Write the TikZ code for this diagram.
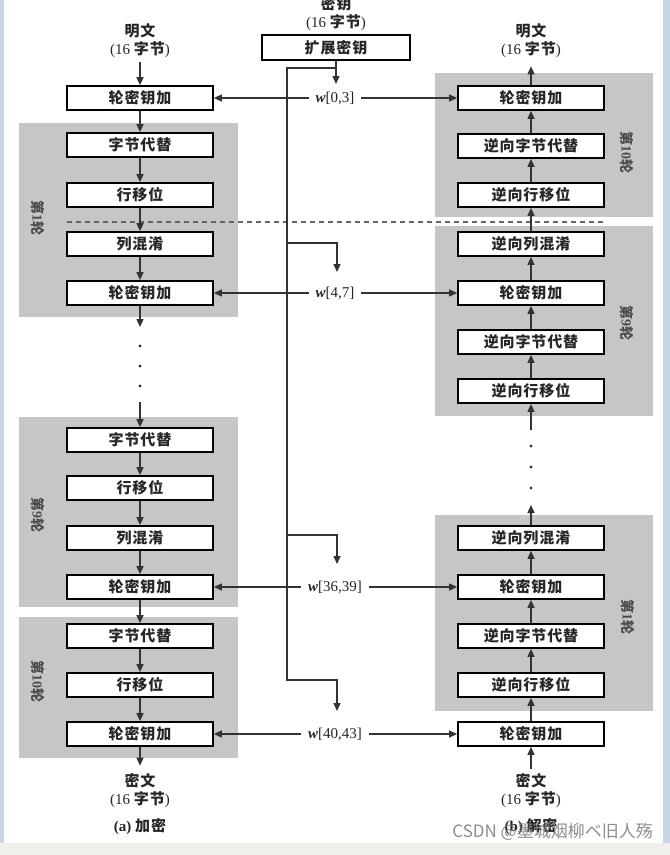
\documentclass[tikz,border=0pt]{standalone}
\usepackage{fontspec}
\setmainfont{Liberation Serif}
\newfontfamily\cjk[LetterSpace=6]{Noto Sans CJK SC}
\newfontfamily\cjkwm{Noto Sans CJK SC}
\usetikzlibrary{arrows.meta}
\definecolor{roundgray}{RGB}{198,198,198}
\definecolor{edgeblue}{RGB}{200,214,234}
\definecolor{stripgray}{RGB}{240,239,235}
\newcommand\zh[1]{{\cjk\bfseries #1}}
\tikzset{
 opbox/.style={draw=black, line width=1.7pt, fill=white, minimum width=146pt, minimum height=24pt, inner sep=0pt, font=\fontsize{15}{16}\selectfont\cjk\bfseries, text=black!85},
 flow/.style={line width=1.4pt, draw=black!80, -{Triangle[length=8pt,width=7pt]}},
 keyline/.style={line width=1.3pt, draw=black!80},
 lab/.style={font=\fontsize{15}{18}\selectfont, align=center, text=black!85, inner sep=1pt},
 wlab/.style={font=\fontsize{15}{17}\selectfont, text=black!85, inner sep=1pt, outer sep=6pt},
 rlab/.style={rotate=-90, font=\fontsize{14}{15}\selectfont\bfseries, text=black!70},
 dotnode/.style={circle, fill=black!80, inner sep=0pt, minimum size=3.4pt}
}
\begin{document}
\begin{tikzpicture}[x=1pt,y=-1pt]
\useasboundingbox (0,0) rectangle (670,855);
\fill[white] (0,0) rectangle (670,855);
% screen edges
\fill[edgeblue] (0,0) rectangle (4,843);
\fill[edgeblue] (663,0) rectangle (670,843);
\fill[stripgray] (0,843) rectangle (670,855);
% round backgrounds
\fill[roundgray] (19,123) rectangle (238,317);
\fill[roundgray] (19,417) rectangle (238,607);
\fill[roundgray] (19,617) rectangle (238,758);
\fill[roundgray] (435,73) rectangle (653,217);
\fill[roundgray] (435,226) rectangle (653,416);
\fill[roundgray] (435,515) rectangle (653,711);
% dashed separator
\draw[line width=1.2pt, black!60, dash pattern=on 5pt off 4pt] (67,222) -- (605,222);
% round labels
\node[rlab] (rl1) at (38,218) {\zh{第}1\zh{轮}};
\node[rlab] (rl9) at (38,515) {\zh{第}9\zh{轮}};
\node[rlab] (rl10) at (38,681) {\zh{第}10\zh{轮}};
\node[rlab] (rr10) at (627,152) {\zh{第}10\zh{轮}};
\node[rlab] (rr9) at (627,323) {\zh{第}9\zh{轮}};
\node[rlab] (rr1) at (628,617) {\zh{第}1\zh{轮}};
% top/bottom labels
\node[lab] (ptL) at (140,41) {\zh{明文}\\(16 \zh{字节})};
\node[lab] (ptR) at (531,41) {\zh{明文}\\(16 \zh{字节})};
\node[lab] (key) at (336,14) {\zh{密钥}\\(16 \zh{字节})};
\node[lab] (ctL) at (140,791) {\zh{密文}\\(16 \zh{字节})};
\node[lab] (ctR) at (531,791) {\zh{密文}\\(16 \zh{字节})};
\node[lab] (capA) at (140,827) {\bfseries (a) \zh{加密}};
\node[lab] (capB) at (531,827) {\bfseries (b) \zh{解密}};
% key expansion
\node[opbox, minimum width=148pt, minimum height=25pt] (xk) at (336,47.5) {扩展密钥};
% left column (encryption)
\node[opbox] (L0) at (140,98) {轮密钥加};
\node[opbox] (L1a) at (140,145) {字节代替};
\node[opbox] (L1b) at (140,195) {行移位};
\node[opbox] (L1c) at (140,244) {列混淆};
\node[opbox] (L1d) at (140,293) {轮密钥加};
\node[opbox] (L9a) at (140,440) {字节代替};
\node[opbox] (L9b) at (140,488) {行移位};
\node[opbox] (L9c) at (140,538) {列混淆};
\node[opbox] (L9d) at (140,587) {轮密钥加};
\node[opbox] (L10a) at (140,636) {字节代替};
\node[opbox] (L10b) at (140,685) {行移位};
\node[opbox] (L10d) at (140,734) {轮密钥加};
% right column (decryption)
\node[opbox] (R0) at (531,98) {轮密钥加};
\node[opbox] (R10b) at (531,146) {逆向字节代替};
\node[opbox] (R10c) at (531,195) {逆向行移位};
\node[opbox] (R9a) at (531,244) {逆向列混淆};
\node[opbox] (R9b) at (531,293) {轮密钥加};
\node[opbox] (R9c) at (531,342) {逆向字节代替};
\node[opbox] (R9d) at (531,391) {逆向行移位};
\node[opbox] (R1a) at (531,538) {逆向列混淆};
\node[opbox] (R1b) at (531,587) {轮密钥加};
\node[opbox] (R1c) at (531,636) {逆向字节代替};
\node[opbox] (R1d) at (531,685) {逆向行移位};
\node[opbox] (Rf) at (531,734) {轮密钥加};
% dots
\node[dotnode] (dl1) at (140,346) {};
\node[dotnode] (dl2) at (140,366) {};
\node[dotnode] (dl3) at (140,386) {};
\node[dotnode] (dr1) at (531,446) {};
\node[dotnode] (dr2) at (531,467) {};
\node[dotnode] (dr3) at (531,488) {};
\coordinate (lgapA) at (140,327);
\coordinate (lgapB) at (140,402);
\coordinate (rgapA) at (531,430);
\coordinate (rgapB) at (531,505);
% left flow
\draw[flow, shorten <=3pt] (ptL.south) -- (L0.north);
\draw[flow] (L0) -- (L1a);
\draw[flow] (L1a) -- (L1b);
\draw[flow] (L1b) -- (L1c);
\draw[flow] (L1c) -- (L1d);
\draw[flow] (L1d.south) -- (lgapA);
\draw[flow] (lgapB) -- (L9a.north);
\draw[flow] (L9a) -- (L9b);
\draw[flow] (L9b) -- (L9c);
\draw[flow] (L9c) -- (L9d);
\draw[flow] (L9d) -- (L10a);
\draw[flow] (L10a) -- (L10b);
\draw[flow] (L10b) -- (L10d);
\draw[flow, shorten >=7pt] (L10d.south) -- (ctL.north);
% right flow
\draw[flow, shorten >=7pt] (R0.north) -- (ptR.south);
\draw[flow] (R10b) -- (R0);
\draw[flow] (R10c) -- (R10b);
\draw[flow] (R9a) -- (R10c);
\draw[flow] (R9b) -- (R9a);
\draw[flow] (R9c) -- (R9b);
\draw[flow] (R9d) -- (R9c);
\draw[flow] (rgapA) -- (R9d.south);
\draw[flow] (R1a.north) -- (rgapB);
\draw[flow] (R1b) -- (R1a);
\draw[flow] (R1c) -- (R1b);
\draw[flow] (R1d) -- (R1c);
\draw[flow] (Rf) -- (R1d);
\draw[flow, shorten <=4pt] (ctR.north) -- (Rf.south);
% key schedule lines
\coordinate (j0) at (336,68);
\coordinate (a0) at (336,84);
\coordinate (t0) at (287,68);
\coordinate (t1) at (287,243);
\coordinate (t2) at (287,535);
\coordinate (t3) at (287,680);
\coordinate (b1) at (337,243);
\coordinate (b2) at (337,535);
\coordinate (b3) at (337,680);
\coordinate (a1) at (337,272);
\coordinate (a2) at (337,564);
\coordinate (a3) at (337,711);
\draw[keyline] (xk.south) -- (j0);
\draw[flow] (j0) -- (a0);
\draw[flow] (j0) -- (t0) -- (t3) -- (b3) -- (a3);
\draw[flow] (t1) -- (b1) -- (a1);
\draw[flow] (t2) -- (b2) -- (a2);
% round keys
\node[wlab] (w0) at (335,98) {\textbf{\textit{w}}[0,3]};
\node[wlab] (w1) at (335,293) {\textbf{\textit{w}}[4,7]};
\node[wlab] (w2) at (335,587) {\textbf{\textit{w}}[36,39]};
\node[wlab] (w3) at (335,734) {\textbf{\textit{w}}[40,43]};
\draw[flow] (w0) -- (L0);
\draw[flow] (w0) -- (R0);
\draw[flow] (w1) -- (L1d);
\draw[flow] (w1) -- (R9b);
\draw[flow] (w2) -- (L9d);
\draw[flow] (w2) -- (R1b);
\draw[flow] (w3) -- (L10d);
\draw[flow] (w3) -- (Rf);
% watermark
\node[anchor=east, font=\fontsize{17}{18}\selectfont\cjkwm, text=black!50, opacity=0.9, inner sep=0pt] (wm) at (653,832) {CSDN @墨城烟柳ベ旧人殇};
\end{tikzpicture}
\end{document}
